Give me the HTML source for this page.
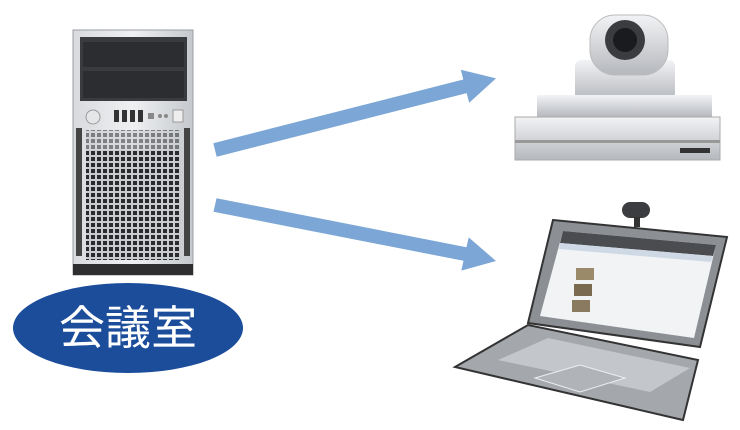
<!DOCTYPE html>
<html><head><meta charset="utf-8"><style>
html,body{margin:0;padding:0;background:#fff;width:740px;height:430px;overflow:hidden}
svg{display:block}
</style></head><body>
<svg width="740" height="430" viewBox="0 0 740 430" xmlns="http://www.w3.org/2000/svg">
<defs>
<pattern id="grill" width="6" height="6" patternUnits="userSpaceOnUse">
<rect width="6" height="6" fill="#c9cbce"/><rect x="1" y="1" width="4" height="4" fill="#2a2b2e"/>
</pattern>
<linearGradient id="silver" x1="0" y1="0" x2="0" y2="1">
<stop offset="0" stop-color="#f2f3f5"/><stop offset="1" stop-color="#b5b8bd"/>
</linearGradient>
<linearGradient id="srv" x1="0" y1="0" x2="1" y2="0">
<stop offset="0" stop-color="#d8dadd"/><stop offset="0.5" stop-color="#eef0f2"/><stop offset="1" stop-color="#c5c8cc"/>
</linearGradient>
</defs>

<!-- server -->
<rect x="73" y="30" width="120" height="245" fill="url(#srv)" stroke="#9a9da2"/>
<rect x="80" y="37" width="107" height="64" fill="#3a3b3e"/>
<rect x="83" y="42" width="101" height="25" fill="#2c2d30"/>
<rect x="83" y="71" width="101" height="27" fill="#2c2d30"/>
<circle cx="93" cy="117" r="7" fill="#e5e6e8" stroke="#999"/>
<rect x="114" y="110" width="5" height="12" fill="#333"/><rect x="122" y="110" width="5" height="12" fill="#333"/>
<rect x="130" y="110" width="5" height="12" fill="#333"/><rect x="138" y="110" width="5" height="12" fill="#333"/>
<rect x="148" y="113" width="6" height="6" fill="#888"/><circle cx="160" cy="116" r="2" fill="#888"/><circle cx="166" cy="116" r="2" fill="#888"/>
<rect x="173" y="110" width="10" height="12" fill="#eee" stroke="#999"/>
<rect x="76" y="128" width="6" height="128" fill="#444"/>
<rect x="184" y="128" width="6" height="128" fill="#444"/>
<rect x="86" y="150" width="95" height="110" fill="url(#grill)"/>
<rect x="86" y="130" width="95" height="20" fill="url(#grill)" opacity="0.55"/>
<rect x="73" y="264" width="120" height="11" fill="#2e2e30"/>

<!-- arrows -->
<polygon points="213.3,143.2 463.3,79.5 460.8,69.8 496,78.4 469.2,102.8 466.7,93.1 216.7,156.8" fill="#7ba6d6"/>
<polygon points="216.5,198.2 466.5,247.2 468.7,237.4 496,261 461.3,270.6 463.5,260.8 213.5,211.8" fill="#7ba6d6"/>

<!-- ellipse -->
<ellipse cx="128" cy="328" rx="115" ry="45" fill="#1b4d9b"/>
<text x="128" y="344" text-anchor="middle" fill="#fff" font-size="46" font-family="'Liberation Sans','Noto Sans CJK JP',sans-serif">会議室</text>

<!-- PTZ camera -->
<rect x="575" y="60" width="100" height="40" rx="6" fill="url(#silver)"/>
<rect x="590" y="15" width="78" height="60" rx="25" fill="url(#silver)" stroke="#bbb"/>
<circle cx="625" cy="40" r="20" fill="#3a3c40"/>
<circle cx="625" cy="40" r="12" fill="#1a1b1e"/>
<rect x="537" y="95" width="175" height="22" fill="url(#silver)"/>
<rect x="515" y="117" width="205" height="43" fill="url(#silver)" stroke="#aaa"/>
<rect x="515" y="140" width="205" height="3" fill="#999"/>
<rect x="680" y="148" width="30" height="5" fill="#333"/>

<!-- laptop -->
<polygon points="455,367 528,325 698,360 683,420" fill="#a4a8ad" stroke="#333" stroke-width="2"/>
<polygon points="498,360 548,338 690,368 650,392" fill="#c3c6ca"/>
<polygon points="535,378 580,365 625,378 580,392" fill="#b0b4b9" stroke="#eee"/>
<polygon points="553,220 727,237 700,347 528,323" fill="#8c9095" stroke="#333" stroke-width="2"/>
<polygon points="563,231 716,245 694,338 540,316" fill="#f2f3f4"/>
<polygon points="563,231 716,245 713,256 560,243" fill="#4a4c50"/>
<polygon points="560,243 713,256 711,262 559,249" fill="#cfd9e6"/>
<rect x="576" y="268" width="18" height="12" fill="#9a8a6a"/>
<rect x="574" y="284" width="18" height="12" fill="#7a6a50"/>
<rect x="572" y="300" width="18" height="12" fill="#8a7a60"/>
<!-- webcam -->
<rect x="622" y="202" width="28" height="16" rx="8" fill="#3b3d40"/>
<rect x="634" y="217" width="6" height="10" fill="#333"/>
</svg>
</body></html>
